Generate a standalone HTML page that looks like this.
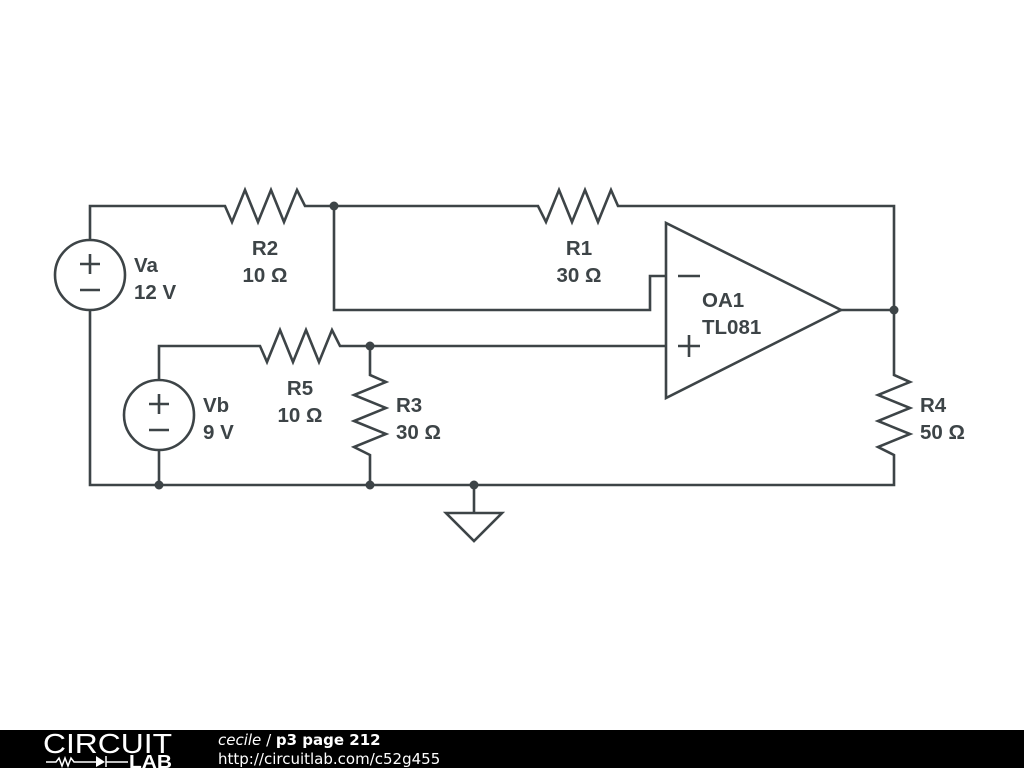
<!DOCTYPE html>
<html><head><meta charset="utf-8"><style>
body{margin:0;width:1024px;height:768px;background:#fff;overflow:hidden;font-family:"Liberation Sans",sans-serif}
</style></head><body>
<svg width="1024" height="768" viewBox="0 0 1024 768" xmlns="http://www.w3.org/2000/svg">
<g fill="none" stroke="#3d4447" stroke-width="2.6" stroke-linejoin="miter">
<polyline points="90,240 90,206 225,206 232,222 245,190 258,222 271,190 284,222 297,190 305,206 538,206 546,222 559,190 572,222 585,190 598,222 611,190 618,206 894,206 894,375 910,382 878,395 910,408 878,421 910,434 878,447 894,455 894,485 90,485 90,310"/>
<polyline points="334,206 334,310 650,310 650,276 666,276"/>
<polyline points="159,380 159,346 260,346 267,362 280,330 293,362 306,330 319,362 332,330 340,346 666,346"/>
<polyline points="159,450 159,485"/>
<polyline points="370,346 370,375 386,382 354,395 386,408 354,421 386,434 354,447 370,455 370,485"/>
<polygon points="666,223 666,398 841,310"/>
<line x1="841" y1="310" x2="894" y2="310"/>
<circle cx="90" cy="275" r="35"/>
<circle cx="159" cy="415" r="35"/>
<line x1="80" y1="264" x2="100" y2="264"/><line x1="90" y1="254" x2="90" y2="274"/>
<line x1="80" y1="290" x2="100" y2="290"/>
<line x1="149" y1="404" x2="169" y2="404"/><line x1="159" y1="394" x2="159" y2="414"/>
<line x1="149" y1="430" x2="169" y2="430"/>
<line x1="678" y1="276" x2="700" y2="276"/>
<line x1="678" y1="346" x2="700" y2="346"/><line x1="689" y1="335" x2="689" y2="357"/>
<line x1="474" y1="485" x2="474" y2="513"/>
<polygon points="446,513 502,513 474,541"/>
</g>
<g fill="#3d4447">
<circle cx="334" cy="206" r="4.5"/><circle cx="370" cy="346" r="4.5"/>
<circle cx="894" cy="310" r="4.5"/><circle cx="159" cy="485" r="4.5"/>
<circle cx="370" cy="485" r="4.5"/><circle cx="474" cy="485" r="4.5"/>
</g>
<g fill="#3d4447" font-family="Liberation Sans,sans-serif" font-weight="bold" font-size="20.5">
<text x="265" y="255" text-anchor="middle">R2</text><text x="265" y="282" text-anchor="middle">10 Ω</text>
<text x="579" y="255" text-anchor="middle">R1</text><text x="579" y="282" text-anchor="middle">30 Ω</text>
<text x="300" y="395" text-anchor="middle">R5</text><text x="300" y="422" text-anchor="middle">10 Ω</text>
<text x="134" y="272">Va</text><text x="134" y="299">12 V</text>
<text x="203" y="412">Vb</text><text x="203" y="439">9 V</text>
<text x="396" y="412">R3</text><text x="396" y="439">30 Ω</text>
<text x="920" y="412">R4</text><text x="920" y="439">50 Ω</text>
<text x="702" y="307">OA1</text><text x="702" y="334">TL081</text>
</g>
<rect x="0" y="730" width="1024" height="38" fill="#000"/>
<text x="43" y="753" fill="#fff" font-size="28" font-family="Liberation Sans,sans-serif" textLength="129" lengthAdjust="spacingAndGlyphs">CIRCUIT</text>
<g stroke="#fff" stroke-width="1.5" fill="none"><polyline points="46,762 56,762 59,758 62,766 65,758 68,766 71,758 74,762 96,762"/><line x1="106" y1="756" x2="106" y2="767"/><line x1="106" y1="762" x2="128" y2="762"/></g>
<polygon points="96,756 96,767 105,762" fill="#fff"/>
<text x="129" y="768" fill="#fff" font-size="18" font-weight="bold" font-family="Liberation Sans,sans-serif" textLength="43" lengthAdjust="spacingAndGlyphs">LAB</text>
<text x="218" y="745" fill="#fff" font-size="15" font-family="DejaVu Sans,sans-serif"><tspan font-style="italic">cecile</tspan> / <tspan font-weight="bold">p3 page 212</tspan></text>
<text x="218" y="764" fill="#fff" font-size="15" font-family="DejaVu Sans,sans-serif">http://circuitlab.com/c52g455</text>
</svg>
</body></html>
